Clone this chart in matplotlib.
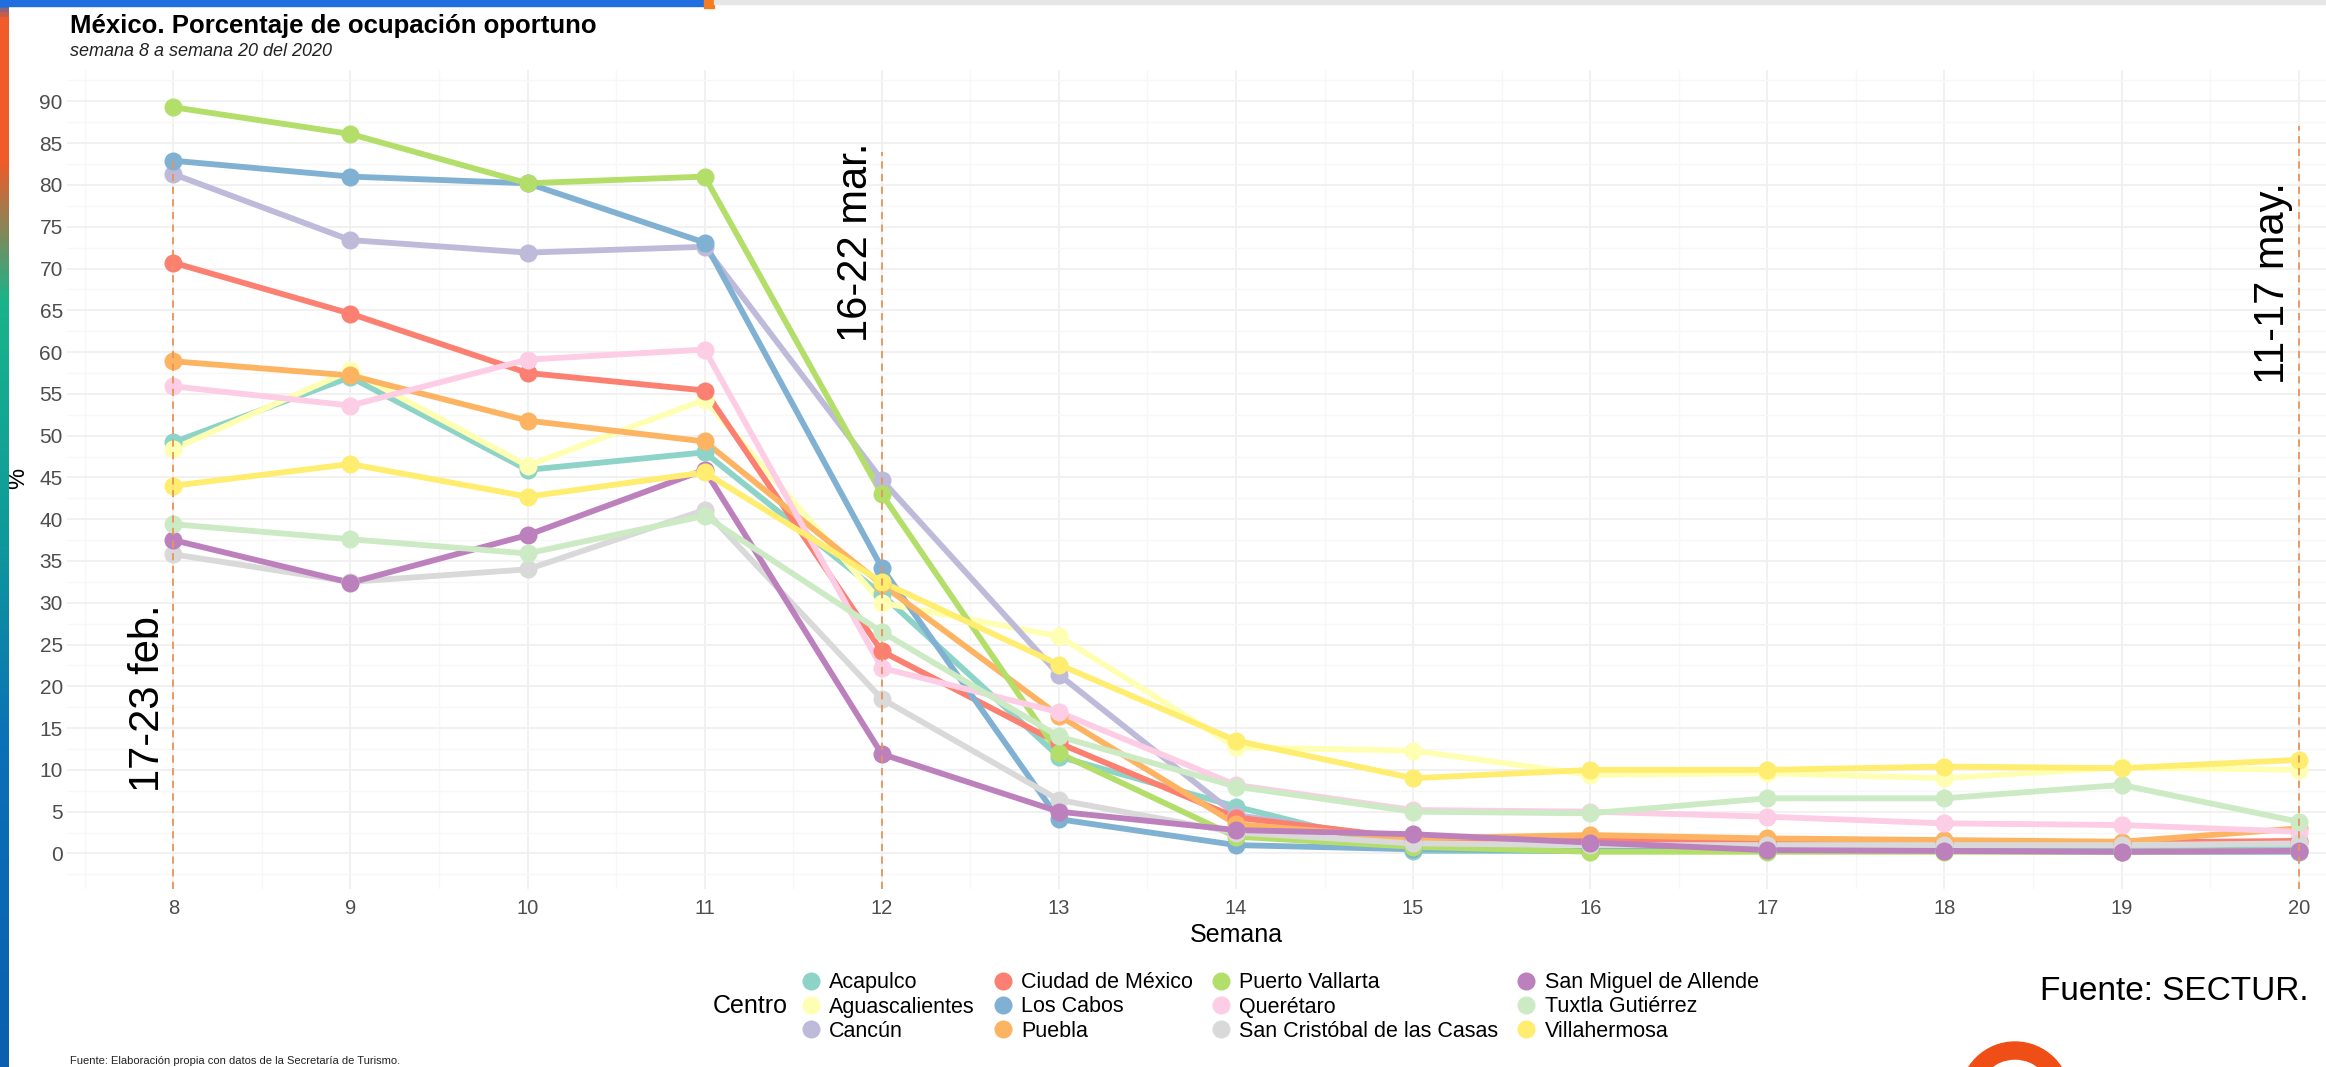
import matplotlib
matplotlib.use("Agg")
import matplotlib.pyplot as plt
import numpy as np
from matplotlib.patches import Rectangle, Wedge
from matplotlib.lines import Line2D
from matplotlib.colors import LinearSegmentedColormap

plt.rcParams['font.family'] = ['Liberation Sans', 'DejaVu Sans']

# ---------------- data ----------------
semanas = [8, 9, 10, 11, 12, 13, 14, 15, 16, 17, 18, 19, 20]

centros = ["Acapulco", "Aguascalientes", "Cancún", "Ciudad de México", "Los Cabos",
           "Puebla", "Puerto Vallarta", "Querétaro", "San Cristóbal de las Casas",
           "San Miguel de Allende", "Tuxtla Gutiérrez", "Villahermosa"]

colores = ["#8DD3C7", "#FFFFB3", "#BEBADA", "#FB8072", "#80B1D3", "#FDB462",
           "#B3DE69", "#FCCDE5", "#D9D9D9", "#BC80BD", "#CCEBC5", "#FFED6F"]

acapulco       = [49.2, 57.0, 45.9, 48.0, 31.0, 11.6, 5.6, 0.3, 0.3, 0.3, 0.3, 0.3, 0.5]
aguascalientes = [48.4, 57.8, 46.4, 54.3, 30.0, 26.0, 12.7, 12.3, 9.4, 9.6, 9.0, 10.3, 10.0]
cancun         = [81.3, 73.4, 71.9, 72.6, 44.7, 21.4, 4.6, 1.5, 1.2, 1.0, 1.0, 1.0, 1.2]
cdmx           = [70.7, 64.6, 57.5, 55.4, 24.2, 13.2, 4.3, 1.8, 1.6, 1.5, 1.5, 1.3, 1.5]
los_cabos      = [82.9, 81.0, 80.2, 73.1, 34.2, 4.1, 1.0, 0.5, 0.3, 0.3, 0.3, 0.2, 0.2]
puebla         = [58.9, 57.2, 51.8, 49.3, 32.2, 16.5, 3.5, 1.8, 2.2, 1.8, 1.6, 1.4, 3.0]
puerto_vallarta = [89.3, 86.1, 80.2, 81.0, 43.0, 12.0, 2.0, 0.8, 0.2, 0.2, 0.2, 0.2, 0.3]
queretaro      = [55.9, 53.6, 59.1, 60.3, 22.2, 16.9, 8.2, 5.2, 5.0, 4.4, 3.6, 3.4, 2.6]
san_cristobal  = [35.8, 32.5, 34.0, 41.1, 18.5, 6.4, 2.5, 1.2, 1.0, 1.0, 1.0, 1.0, 1.2]
san_miguel     = [37.5, 32.4, 38.1, 45.9, 11.9, 5.0, 2.8, 2.3, 1.3, 0.4, 0.3, 0.2, 0.3]
tuxtla         = [39.4, 37.6, 35.9, 40.4, 26.5, 14.0, 8.0, 5.0, 4.8, 6.6, 6.6, 8.2, 3.8]
villahermosa   = [44.0, 46.6, 42.7, 45.6, 32.5, 22.6, 13.5, 9.0, 10.0, 10.0, 10.4, 10.2, 11.2]

series = [acapulco, aguascalientes, cancun, cdmx, los_cabos, puebla, puerto_vallarta,
          queretaro, san_cristobal, san_miguel, tuxtla, villahermosa]

marcas_x = [8, 12, 20]
marcas_txt = ["17-23 feb.", "16-22 mar.", "11-17 may."]
marcas_y0 = [7.4, 61.2, 56.2]
marcas_top = [83.0, 84.0, 87.0]

titulo = "México. Porcentaje de ocupación oportuno"
subtitulo = "semana 8 a semana 20 del 2020"
nota = "Fuente: Elaboración propia con datos de la Secretaría de Turismo."
fuente = "Fuente: SECTUR."

# ---------------- figure ----------------
W, H = 2326, 1067
fig = plt.figure(figsize=(W / 100, H / 100), dpi=100)
fig.patch.set_facecolor("white")

ax = fig.add_axes([67 / W, 1 - 889 / H, (2405 - 67) / W, (889 - 70) / H])
ax.set_facecolor("white")
for s in ax.spines.values():
    s.set_visible(False)

allv = np.concatenate([np.array(v) for v in series])
rng = allv.max() - allv.min()
ax.set_ylim(allv.min() - 0.05 * rng, allv.max() + 0.05 * rng)
xr = semanas[-1] - semanas[0]
ax.set_xlim(semanas[0] - 0.05 * xr, semanas[-1] + 0.05 * xr)

ax.set_xticks(semanas)
ax.set_xticks([w + 0.5 for w in range(7, 21)], minor=True)
ax.set_yticks(np.arange(0, 91, 5))
ax.set_yticks(np.arange(-2.5, 94, 5), minor=True)
ax.grid(which="major", color="#f0f0f0", lw=1.3, zorder=0)
ax.grid(which="minor", color="#f7f7f7", lw=1.0, zorder=0)
ax.set_axisbelow(True)
ax.tick_params(which="both", length=0)
ax.tick_params(axis="y", labelsize=15, labelcolor="#4d4d4d", pad=3)
ax.tick_params(axis="x", labelsize=14.5, labelcolor="#4d4d4d", pad=7)

for vals, c in zip(series, colores):
    ax.plot(semanas, vals, color=c, lw=4.2, zorder=2, solid_capstyle="round")
for vals, c in zip(series, colores):
    ax.plot(semanas, vals, "o", color=c, ms=13, mew=0, zorder=3)

ylo = ax.get_ylim()[0]
for x, t, y0, top in zip(marcas_x, marcas_txt, marcas_y0, marcas_top):
    ax.plot([x, x], [ylo, top], color="#e8955a", lw=1.3, ls=(0, (4, 3)), zorder=4)
    ax.annotate(t, xy=(x, y0), xytext=(-4, 0), textcoords="offset points",
                rotation=90, ha="right", va="bottom", fontsize=30, color="black", zorder=5)

# titles and labels
fig.text(70 / W, 1 - 33 / H, titulo, fontsize=18.5, fontweight="bold", va="baseline")
fig.text(70 / W, 1 - 56 / H, subtitulo, fontsize=13, style="italic", va="baseline", color="#222222")
fig.text(18 / W, 1 - 478 / H, "%", rotation=90, fontsize=17, ha="center", va="center")
fig.text(1236 / W, 1 - 935 / H, "Semana", fontsize=18, ha="center", va="center")

# legend
handles = [Line2D([], [], marker="o", ls="", color=c, ms=13, mew=0) for c in colores]
fig.legend(handles, centros, ncol=4, loc="center left",
           bbox_to_anchor=(800 / W, 1 - 1007 / H), frameon=False, fontsize=15.5,
           handlelength=1.0, handletextpad=0.35, columnspacing=0.8,
           labelspacing=0.14, borderpad=0, borderaxespad=0)
fig.text(713 / W, 1 - 1006 / H, "Centro", fontsize=18, va="center", ha="left")

fig.text(2308 / W, 1 - 991 / H, fuente, fontsize=24, ha="right", va="center")

fig.text(70 / W, 1 - 1061 / H, nota, fontsize=8, va="center", color="#222222")

# slide decorations
deco = fig.add_axes([0, 0, 1, 1], zorder=10)
deco.patch.set_alpha(0)
deco.axis("off")
cmap = LinearSegmentedColormap.from_list("borde", [
    (0.0, "#1f6fd6"), (0.015, "#f15a29"), (0.15, "#f15a29"), (0.28, "#19b48a"),
    (0.5, "#0f9a9a"), (0.7, "#0a70b8"), (1.0, "#0b5fae")])
grad = np.linspace(0, 1, 256).reshape(-1, 1)
deco.imshow(grad, cmap=cmap, extent=(0, 9, H, 0), aspect="auto")
deco.add_patch(Rectangle((0, 0), 704, 6, color="#1f6fe0"))
deco.add_patch(Rectangle((704, 0), 10, 8, color="#f57c20"))
deco.add_patch(Rectangle((714, 0), W - 714, 4, color="#e6e6e6"))
deco.add_patch(Wedge((2015, 1097), 55, 0, 360, width=17, color="#f04e17"))
deco.set_xlim(0, W)
deco.set_ylim(H, 0)

fig.savefig("out.png", dpi=100, facecolor="white")
